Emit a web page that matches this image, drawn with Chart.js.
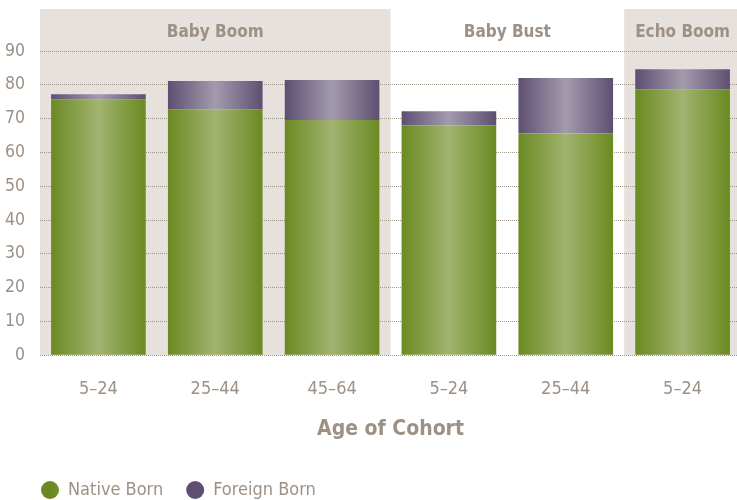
<!DOCTYPE html>
<html>
<head>
<meta charset="utf-8">
<script src="https://cdn.jsdelivr.net/npm/chart.js@4.4.1/dist/chart.umd.min.js"></script>
<style>
  html, body { margin: 0; padding: 0; background: #fff; }
  #clip { width: 737px; height: 500px; overflow: hidden; }
  #wrap { width: 741px; height: 500px; }
</style>
</head>
<body>
<div id="clip"><div id="wrap"><canvas id="myChart"></canvas></div></div>
<script>
var cohorts = ['5–24', '25–44', '45–64', '5–24', '25–44', '5–24'];
var nativeBorn = [75.7, 72.8, 69.6, 68.0, 65.6, 78.7];
var foreignBorn = [1.5, 8.3, 11.8, 4.2, 16.4, 5.9];
var generations = ['Baby Boom', 'Baby Bust', 'Echo Boom'];
var generationSpans = [[0, 2], [3, 4], [5, 5]];
var shadedGenerations = [true, false, true];

var fontFamily = "'DejaVu Sans Condensed', 'Liberation Sans Narrow', sans-serif";
var textColor = '#9d9085';

function barGradient(edge, mid) {
    return function(context) {
        var chart = context.chart;
        var x = chart.scales.x;
        if (!chart.chartArea || !x || context.type !== 'data') return edge;
        var cx = x.getPixelForValue(context.dataIndex);
        var w = (x.width / cohorts.length) * 0.81;
        var g = chart.ctx.createLinearGradient(cx - w / 2, 0, cx + w / 2, 0);
        g.addColorStop(0, edge);
        g.addColorStop(0.5, mid);
        g.addColorStop(1, edge);
        return g;
    };
}

// shaded bands and generation names behind the grid
var bandsPlugin = {
    id: 'bands',
    afterLayout: function(chart) {
        // legend starts under the plot, not at the canvas edge
        chart.legend.left += 18;
        chart.legend.right += 18;
    },
    beforeDraw: function(chart) {
        var ctx = chart.ctx;
        var x = chart.scales.x;
        var area = chart.chartArea;
        ctx.save();
        generations.forEach(function(name, i) {
            var span = generationSpans[i];
            var left = span[0] === 0 ? area.left : x.getPixelForValue(span[0] - 0.5);
            var right = span[1] === cohorts.length - 1 ? area.right : x.getPixelForValue(span[1] + 0.5);
            if (shadedGenerations[i]) {
                ctx.fillStyle = '#e6e1dc';
                ctx.fillRect(left, 9, right - left, area.bottom - 9);
            }
            ctx.fillStyle = textColor;
            ctx.font = "bold 17px " + fontFamily;
            ctx.textAlign = 'center';
            ctx.textBaseline = 'middle';
            var cx = (x.getPixelForValue(span[0]) + x.getPixelForValue(span[1])) / 2;
            ctx.fillText(name, cx, 33);
        });
        ctx.restore();
    }
};

var ctx = document.getElementById('myChart').getContext('2d');
var myChart = new Chart(ctx, {
    type: 'bar',
    data: {
        labels: cohorts,
        datasets: [{
            label: 'Native Born',
            data: nativeBorn,
            backgroundColor: barGradient('#6a8a21', '#a2b370'),
            borderWidth: 0
        }, {
            label: 'Foreign Born',
            data: foreignBorn,
            backgroundColor: barGradient('#5e4f72', '#a39bad'),
            borderWidth: 0
        }]
    },
    options: {
        responsive: true,
        maintainAspectRatio: false,
        animation: false,
        layout: {
            padding: { top: 51, left: 0, right: 0, bottom: -9 }
        },
        datasets: {
            bar: { barPercentage: 0.81, categoryPercentage: 1 }
        },
        plugins: {
            tooltip: { enabled: false },
            legend: {
                position: 'bottom',
                align: 'start',
                labels: {
                    usePointStyle: true,
                    pointStyle: 'circle',
                    boxHeight: 12.7,
                    pointStyleWidth: 18,
                    padding: 23,
                    color: textColor,
                    font: { family: fontFamily, size: 18 }
                }
            }
        },
        scales: {
            x: {
                stacked: true,
                grid: { display: false, drawTicks: false },
                border: { display: false },
                ticks: {
                    color: textColor,
                    padding: 23,
                    font: { family: fontFamily, size: 18 }
                },
                title: {
                    display: true,
                    text: 'Age of Cohort',
                    color: textColor,
                    padding: { top: -6, bottom: 16 },
                    font: { family: fontFamily, size: 21, weight: 'bold' }
                }
            },
            y: {
                stacked: true,
                min: 0,
                max: 90,
                afterFit: function(scale) { scale.width = 40; },
                grid: { color: '#a39788', lineWidth: 1, drawTicks: false },
                border: { display: false, dash: [1, 1] },
                ticks: {
                    stepSize: 10,
                    color: textColor,
                    padding: 15,
                    font: { family: fontFamily, size: 17.5 }
                }
            }
        }
    },
    plugins: [bandsPlugin]
});
</script>
</body>
</html>
